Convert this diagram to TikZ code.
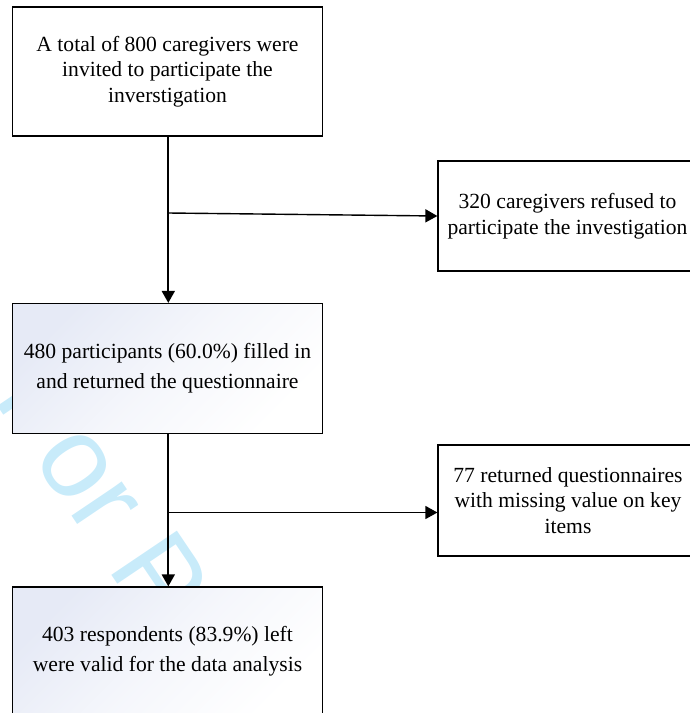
\documentclass[tikz,border=0pt]{standalone}
\usepackage{fontspec}
\setmainfont{Liberation Serif}
\newfontfamily\wmfont{Liberation Sans}
\usetikzlibrary{arrows.meta}
\definecolor{wmcyan}{RGB}{200,235,250}
\definecolor{shadetl}{RGB}{230,234,246}
\tikzset{
  box/.style={draw=black, line width=1.2pt, rectangle, inner sep=0pt, align=center,
    font=\fontsize{21.6}{25.7}\selectfont, fill=white},
  shadebox/.style={box, top color=shadetl, bottom color=white, middle color=white!60!shadetl,
    shading angle=45, font=\fontsize{21.6}{30}\selectfont},
  vconn/.style={line width=1.8pt, draw=black, -{Triangle[length=12pt,width=13pt]}},
  hconn/.style={line width=1.4pt, draw=black, -{Triangle[length=12pt,width=13pt]}}
}
\begin{document}
\begin{tikzpicture}[x=1pt,y=-1pt]
\useasboundingbox (0,0) rectangle (689,713);
% watermark
\node[anchor=base west, rotate=-56, inner sep=0pt, text=wmcyan,
  font=\wmfont\fontsize{115}{115}\selectfont] (wm) at (-8,398) {For Peer Review};
% boxes
\node[box, minimum width=309.5pt, minimum height=129pt] (b1) at (167.5,71.5)
  {A total of 800 caregivers were\\invited to participate the\\inverstigation};
\node[box, minimum width=259pt, minimum height=110pt] (b2) at (567.5,216)
  {320 caregivers refused to\\participate the investigation};
\node[shadebox, minimum width=309.5pt, minimum height=130pt] (b3) at (167.5,368.5)
  {480 participants (60.0\%) filled in\\and returned the questionnaire};
\node[box, minimum width=260pt, minimum height=111pt] (b4) at (568,500.5)
  {77 returned questionnaires\\with missing value on key\\items};
\node[shadebox, minimum width=309.5pt, minimum height=128pt] (b5) at (167.5,651)
  {403 respondents (83.9\%) left\\were valid for the data analysis};
% connectors
\coordinate (j1) at (168.3,213);
\coordinate (j2) at (168.3,512.5);
\draw[vconn] (b1.south -| j1) -- (b3.north -| j1);
\draw[hconn] (j1) -- (b2.west);
\draw[vconn] (b3.south -| j2) -- (b5.north -| j2);
\draw[hconn] (j2) -- (j2 -| b4.west);
\end{tikzpicture}
\end{document}
